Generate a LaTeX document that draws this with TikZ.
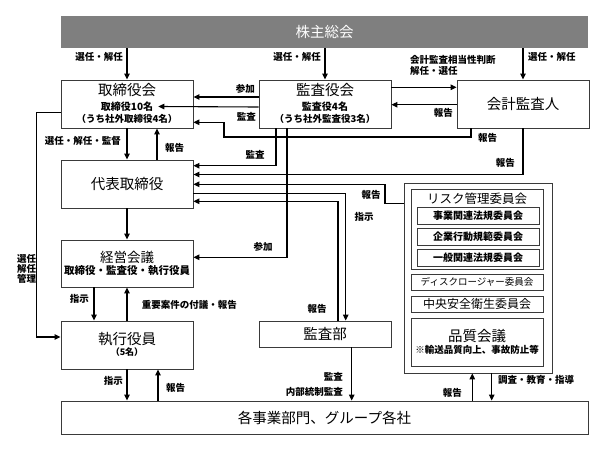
\documentclass[tikz,border=0pt]{standalone}
\usepackage{fontspec}
\setmainfont{Noto Sans CJK JP}
\usetikzlibrary{arrows.meta}
\definecolor{soukaigray}{HTML}{7F7F7F}
\definecolor{boxline}{HTML}{3A3A3A}

\begin{document}
\begin{tikzpicture}[x=1pt,y=-1pt,
  box/.style={draw=boxline,line width=0.9pt,inner sep=0pt},
  arr/.style={line width=1.1pt,-{Triangle[length=6pt,width=5.5pt]}},
  lbl/.style={font=\fontsize{9.5}{9.6}\selectfont\bfseries,inner sep=0pt},
  ttl/.style={font=\fontsize{14.5}{16}\selectfont,inner sep=0pt},
  sub/.style={font=\fontsize{10}{11}\selectfont\bfseries,inner sep=0pt}]
\useasboundingbox (0,0) rectangle (607,450);

% Shareholders bar
\node[fill=soukaigray,text=white,ttl,minimum width=527pt,minimum height=32pt] (soukai) at (324.5,32) {株主総会};

% Board, auditors, accounting auditor
\node[box,minimum width=132pt,minimum height=48pt] (torishimari) at (127,104) {};
\node[ttl] (torishimarittl) at (127,90.5) {取締役会};
\node[sub] (torishimaricnt) at (127,106.5) {取締役10名};
\node[sub,font=\fontsize{9.5}{10}\selectfont\bfseries] (torishimarisoto) at (127,118.5) {（うち社外取締役4名）};
\node[box,minimum width=132pt,minimum height=48pt] (kansayaku) at (325,104) {};
\node[ttl] (kansayakuttl) at (325,90.5) {監査役会};
\node[sub] (kansayakucnt) at (325,106.5) {監査役4名};
\node[sub,font=\fontsize{9.5}{10}\selectfont\bfseries] (kansayakusoto) at (325,118.5) {（うち社外監査役3名）};
\node[box,ttl,minimum width=132pt,minimum height=48pt] (kaikei) at (523,104) {会計監査人};

% Left column
\node[box,ttl,minimum width=132pt,minimum height=48pt] (daihyo) at (127,184) {代表取締役};
\node[box,minimum width=132pt,minimum height=47pt] (keiei) at (127,263.5) {};
\node[ttl,font=\fontsize{13.5}{15}\selectfont] (keieittl) at (127,257) {経営会議};
\node[sub,font=\fontsize{10.5}{11}\selectfont\bfseries] (keieisub) at (127,271) {取締役・監査役・執行役員};
\node[box,minimum width=132pt,minimum height=48pt] (shikko) at (127,345) {};
\node[ttl] (shikkottl) at (127,339) {執行役員};
\node[sub,font=\fontsize{9}{10}\selectfont\bfseries] (shikkonin) at (127,352.5) {（5名）};

% Audit dept and business units
\node[box,ttl,minimum width=132pt,minimum height=26pt] (kansabu) at (325,334) {監査部};
\node[box,ttl,minimum width=527pt,minimum height=33pt] (jigyo) at (324.5,417.5) {各事業部門、グループ各社};

% Committees
\node[box,minimum width=148pt,minimum height=190pt] (riskgrp) at (478,278) {};
\node[box,minimum width=132pt,minimum height=80pt] (risk) at (477,229) {};
\node[ttl,font=\fontsize{12.5}{14}\selectfont] (riskttl) at (477,199) {リスク管理委員会};
\node[box,sub,minimum width=122pt,minimum height=17pt] (jigyohoki) at (478,215.5) {事業関連法規委員会};
\node[box,sub,minimum width=122pt,minimum height=17pt] (kigyokodo) at (478,236.5) {企業行動規範委員会};
\node[box,sub,minimum width=122pt,minimum height=17pt] (ippanhoki) at (478,257.5) {一般関連法規委員会};
\node[box,sub,font=\fontsize{9.5}{10}\selectfont,minimum width=132pt,minimum height=16pt] (disclosure) at (477,282) {ディスクロージャー委員会};
\node[box,sub,font=\fontsize{12}{13}\selectfont,minimum width=132pt,minimum height=16pt] (chuo) at (477,304) {中央安全衛生委員会};
\node[box,minimum width=132pt,minimum height=48pt] (hinshitsu) at (477,342) {};
\node[ttl] (hinshitsuttl) at (477,336) {品質会議};
\node[sub,font=\fontsize{9.5}{10}\selectfont\bfseries] (hinshitsunote) at (477,350) {※輸送品質向上、事故防止等};

% From shareholders
\draw[arr] (soukai.south -| torishimari) -- (torishimari.north);
\draw[arr] (soukai.south -| kansayaku) -- (kansayaku.north);
\draw[arr] (soukai.south -| kaikei) -- (kaikei.north);
\node[lbl,anchor=east] (l1) at (123,57) {選任・解任};
\node[lbl,anchor=east] (l2) at (321,57) {選任・解任};
\node[lbl,anchor=west] (l3) at (528,57) {選任・解任};

% Auditors and board
\draw[arr] (kansayaku.west |- 0,97) -- (torishimari.east |- 0,97);
\node[lbl,anchor=east] (l4) at (255,89) {参加};
\draw[arr] (kansayaku.west |- 0,107) -- ([xshift=5pt]torishimaricnt.east);
\node[lbl,anchor=east] (l5) at (256,117) {監査};

% Auditors and accounting auditor
\draw[arr] (kansayaku.east |- 0,87.3) -- (kaikei.west |- 0,87.3);
\node[lbl,anchor=west] (l6) at (410,60) {会計監査相当性判断};
\node[lbl,anchor=west] (l7) at (410,71) {解任・選任};
\draw[arr] (kaikei.west |- 0,104.7) -- (kansayaku.east |- 0,104.7);
\node[lbl,anchor=east] (l8) at (453,113) {報告};

% Reports from accounting auditor
\draw[arr] (kaikei.south -| 471,0) -- (471,137) -- (224,137) -- (224,122.3) -- (torishimari.east |- 0,122.3);
\node[lbl,anchor=west] (l9) at (478,138) {報告};
\draw[arr] (kaikei.south) -- (523,174.5) -- (daihyo.east |- 0,174.5);
\node[lbl,anchor=east] (l10) at (515,163) {報告};

% Auditors to representative director and management meeting
\draw[arr] (kansayaku.south -| 276,0) -- (276,165.7) -- (daihyo.east |- 0,165.7);
\node[lbl] (l11) at (255,154.5) {監査};
\draw[arr] (kansayaku.south -| 287,0) -- (287,257.3) -- (keiei.east |- 0,257.3);
\node[lbl] (l12) at (263,246.5) {参加};

% Risk committee report
\draw[arr] (riskgrp.west |- 0,203.5) -- (385,203.5) -- (385,184.3) -- (daihyo.east |- 0,184.3);
\node[lbl] (l13) at (371,195) {報告};

% Representative director and audit dept
\draw[arr] (daihyo.east |- 0,193.3) -- (345.7,193.3) -- (kansabu.north -| 345.7,0);
\node[lbl] (l14) at (364,216.5) {指示};
\draw[arr] (kansabu.north -| 338,0) -- (338,201.3) -- (daihyo.east |- 0,201.3);
\node[lbl] (l15) at (317,309) {報告};

% Left column
\draw[arr] (torishimari.south) -- (daihyo.north);
\node[lbl,anchor=east] (l16) at (121,141) {選任・解任・監督};
\draw[arr] (daihyo.north -| 157,0) -- (torishimari.south -| 157,0);
\node[lbl,anchor=west] (l17) at (165,148) {報告};
\draw[arr] (daihyo.south) -- (keiei.north);
\draw[arr] (keiei.south -| 94,0) -- (shikko.north -| 94,0);
\node[lbl,anchor=east] (l18) at (89,299) {指示};
\draw[arr] (shikko.north) -- (keiei.south);
\node[lbl,anchor=west] (l19) at (141.7,305) {重要案件の付議・報告};
\draw[arr] (torishimari.west |- 0,112.3) -- (36.7,112.3) -- (36.7,337) -- (shikko.west |- 0,337);
\node[lbl,align=center] (l20) at (26.5,269) {選任\\解任\\管理};

% To business units
\draw[arr] (shikko.south) -- (jigyo.north -| shikko);
\node[lbl,anchor=east] (l21) at (123,381) {指示};
\draw[arr] (jigyo.north -| 158,0) -- (shikko.south -| 158,0);
\node[lbl,anchor=west] (l22) at (166,388) {報告};
\draw[arr] (kansabu.south -| 351.7,0) -- (jigyo.north -| 351.7,0);
\node[lbl,anchor=east] (l23) at (343,377) {監査};
\node[lbl,anchor=east] (l24) at (343,392) {内部統制監査};
\draw[arr] (jigyo.north -| 472.3,0) -- (riskgrp.south -| 472.3,0);
\node[lbl,anchor=east] (l25) at (462,393) {報告};
\draw[arr] (riskgrp.south -| 491.7,0) -- (jigyo.north -| 491.7,0);
\node[lbl,anchor=west] (l26) at (498,380) {調査・教育・指導};
\end{tikzpicture}
\end{document}
